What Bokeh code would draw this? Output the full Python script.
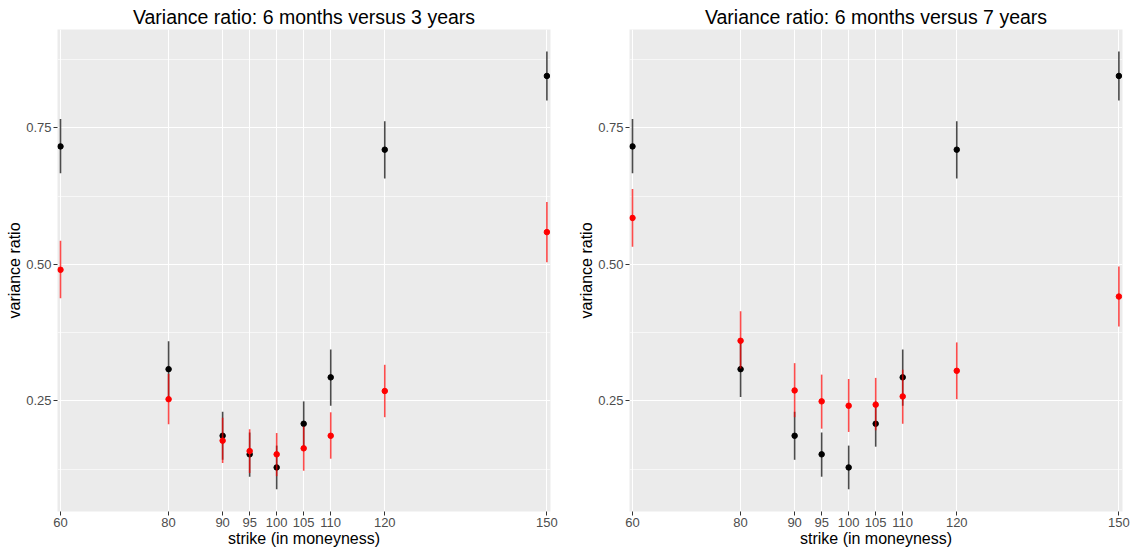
from bokeh.plotting import figure
from bokeh.layouts import row
from bokeh.models import FixedTicker, Range1d, NumeralTickFormatter, ColumnDataSource, Title
from bokeh.embed import file_html
from bokeh.resources import INLINE

# ---- data ----
strikes = [60, 80, 90, 95, 100, 105, 110, 120, 150]

# 6-month variance ratio (black)
black_mid = [0.716, 0.308, 0.186, 0.152, 0.128, 0.208, 0.293, 0.710, 0.845]
black_lo = [0.667, 0.257, 0.142, 0.111, 0.088, 0.166, 0.241, 0.657, 0.800]
black_hi = [0.766, 0.359, 0.230, 0.192, 0.168, 0.249, 0.344, 0.762, 0.890]

# 3-year comparison (red)
red3_mid = [0.490, 0.253, 0.177, 0.158, 0.152, 0.163, 0.186, 0.268, 0.559]
red3_lo = [0.438, 0.207, 0.136, 0.118, 0.112, 0.122, 0.144, 0.220, 0.504]
red3_hi = [0.543, 0.299, 0.219, 0.198, 0.191, 0.203, 0.229, 0.316, 0.614]

# 7-year comparison (red)
red7_mid = [0.585, 0.360, 0.269, 0.249, 0.241, 0.243, 0.258, 0.305, 0.441]
red7_lo = [0.532, 0.309, 0.220, 0.199, 0.193, 0.196, 0.208, 0.253, 0.386]
red7_hi = [0.638, 0.414, 0.319, 0.298, 0.290, 0.292, 0.307, 0.357, 0.496]

titles = ["Variance ratio: 6 months versus 3 years",
          "Variance ratio: 6 months versus 7 years"]
y_major = [0.25, 0.50, 0.75]
y_minor = [0.125, 0.375, 0.625, 0.875]

FONT = "Liberation Sans"


def make_panel(title, r_mid, r_lo, r_hi, width, border_right):
    p = figure(width=width, height=552, output_backend="svg", toolbar_location=None,
               x_range=Range1d(59.445, 150.67), y_range=Range1d(0.0473, 0.9301),
               min_border_left=57, min_border_right=border_right,
               min_border_top=29, min_border_bottom=41,
               background_fill_color="#EBEBEB", border_fill_color="white",
               outline_line_color=None)
    t = Title(text=title, align="center", text_font=FONT, text_font_size="19.5px",
              text_font_style="normal", text_color="black", standoff=4)
    p.add_layout(t, "above")

    p.xaxis.ticker = FixedTicker(ticks=strikes)
    p.yaxis.ticker = FixedTicker(ticks=y_major, minor_ticks=y_minor)
    p.yaxis.formatter = NumeralTickFormatter(format="0.00")

    for ax in (p.xaxis, p.yaxis):
        ax.axis_line_color = None
        ax.major_tick_line_color = "#333333"
        ax.major_tick_line_width = 1
        ax.major_tick_out = 4
        ax.major_tick_in = 0
        ax.minor_tick_line_color = None
        ax.major_label_text_color = "#4D4D4D"
        ax.major_label_text_font = FONT
        ax.major_label_text_font_size = "13px"
        ax.major_label_standoff = 2
        ax.axis_label_text_font = FONT
        ax.axis_label_text_font_size = "16px"
        ax.axis_label_text_font_style = "normal"
        ax.axis_label_text_color = "black"
        ax.axis_label_standoff = 0
    p.xaxis.axis_label = "strike (in moneyness)"
    p.yaxis.axis_label = "variance ratio"

    p.xgrid.grid_line_color = "white"
    p.xgrid.grid_line_width = 1.1
    p.ygrid.grid_line_color = "white"
    p.ygrid.grid_line_width = 1.1
    p.ygrid.minor_grid_line_color = "white"
    p.ygrid.minor_grid_line_width = 0.6

    src_b = ColumnDataSource(dict(x=strikes, mid=black_mid, lo=black_lo, hi=black_hi))
    src_r = ColumnDataSource(dict(x=strikes, mid=r_mid, lo=r_lo, hi=r_hi))

    p.segment(x0="x", y0="lo", x1="x", y1="hi", source=src_b,
              line_color="black", line_alpha=0.7, line_width=1.6)
    p.scatter(x="x", y="mid", source=src_b, size=5.5, fill_color="black",
              line_color="black")
    p.segment(x0="x", y0="lo", x1="x", y1="hi", source=src_r,
              line_color="red", line_alpha=0.7, line_width=1.6)
    p.scatter(x="x", y="mid", source=src_r, size=5.5, fill_color="red",
              line_color="red")
    return p


p1 = make_panel(titles[0], red3_mid, red3_lo, red3_hi, 572, 22)
p2 = make_panel(titles[1], red7_mid, red7_lo, red7_hi, 562, 12)

layout = row(p1, p2)
open("out.html", "w").write(file_html(layout, INLINE))
